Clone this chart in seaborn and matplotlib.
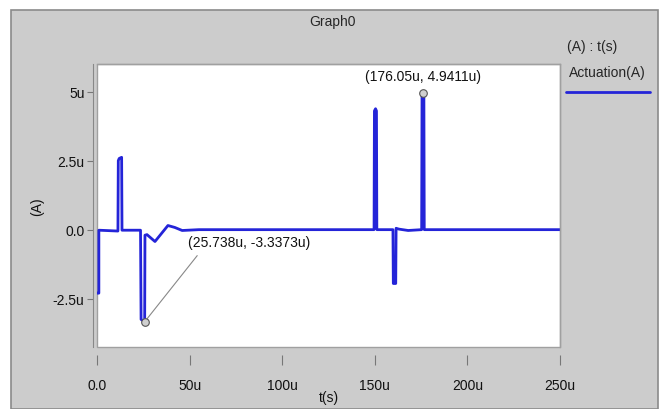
import numpy as np
import pandas as pd
import seaborn as sns
import matplotlib.pyplot as plt
from matplotlib.patches import Rectangle
from matplotlib.lines import Line2D
from matplotlib.ticker import FuncFormatter

# time in micro-seconds, current in micro-amps
t_us = [0, 1.0, 1.0, 11.3, 11.5, 12.0, 13.3, 13.5, 23.5, 23.8, 25.738, 25.9,
        27.0, 31.3, 38.3, 42.0, 46.0, 55.0, 149.6, 149.8, 150.4, 150.9, 151.1,
        159.8, 160.0, 161.3, 161.5, 163.0, 168.0, 175.3, 175.5, 176.05, 176.5,
        176.7, 250.0]
i_ua = [-2.3, -2.3, -0.02, -0.05, 2.5, 2.58, 2.62, -0.02, -0.02, -3.25, -3.3373, -0.2,
        -0.18, -0.43, 0.15, 0.08, -0.03, 0.0, 0.0, 4.3, 4.38, 4.3, 0.0,
        0.0, -1.95, -1.95, 0.05, 0.02, -0.03, 0.0, 4.9, 4.9411, 4.9,
        0.0, 0.0]

marks_t = [25.738, 176.05]
marks_i = [-3.3373, 4.9411]
mark_labels = ["(25.738u, -3.3373u)", "(176.05u, 4.9411u)"]

x_ticks = [0, 50, 100, 150, 200, 250]
y_ticks = [-2.5, 0, 2.5, 5]

sns.set_style("white")
plt.rcParams['font.family'] = ['Liberation Sans', 'DejaVu Sans']
FS = 10

fig = plt.figure(figsize=(6.65, 4.10), dpi=100)
fig.patch.set_facecolor('white')
W, H = 665, 410
fig.patches.append(Rectangle((11 / W, 0), (658 - 11) / W, 1 - 11 / H,
                             transform=fig.transFigure, facecolor='#cccccc',
                             edgecolor='#8a8a8a', linewidth=1.2, zorder=-10))

ax = fig.add_axes([97 / W, 1 - 348 / H, (560 - 97) / W, (348 - 65) / H])
ax.set_facecolor('white')

df = pd.DataFrame({"t": t_us, "i": i_ua})
sns.lineplot(data=df, x="t", y="i", sort=False, estimator=None,
             color='#2424d8', linewidth=2.0, ax=ax, legend=False)

ax.scatter(marks_t, marks_i, s=30, facecolor='#d0d0d0', edgecolor='#555555',
           linewidth=0.8, zorder=5)
ax.annotate(mark_labels[0], xy=(marks_t[0], marks_i[0]), xytext=(82, -0.45),
            fontsize=FS, ha='center', va='center', color='#111111',
            arrowprops=dict(arrowstyle='-', color='#888888', lw=0.8,
                            shrinkA=3, shrinkB=0, relpos=(0.12, 0)))
ax.text(176.05, 5.55, mark_labels[1], fontsize=FS, ha='center', va='center',
        color='#111111')

ax.set_xlim(0, 250)
ax.set_ylim(-4.25, 6.0)
ax.set_xticks(x_ticks)
ax.set_yticks(y_ticks)
ax.xaxis.set_major_formatter(FuncFormatter(lambda v, p: "0.0" if v == 0 else f"{v:g}u"))
ax.yaxis.set_major_formatter(FuncFormatter(lambda v, p: "0.0" if v == 0 else f"{v:g}u"))

for s in ['top', 'right']:
    ax.spines[s].set_color('#a0a0a0')
    ax.spines[s].set_linewidth(1.0)
ax.spines['left'].set_position(('outward', 3))
ax.spines['left'].set_color('#888888')
ax.spines['bottom'].set_position(('outward', 6))
ax.spines['bottom'].set_visible(False)
ax.patch.set_edgecolor('#a0a0a0')
ax.patch.set_linewidth(1.0)

ax.tick_params(axis='x', bottom=True, length=7, width=0.8, color='#777777',
               pad=9, labelsize=FS, labelcolor='#111111')
ax.tick_params(axis='y', left=True, length=4, width=0.8, color='#777777',
               pad=2, labelsize=FS, labelcolor='#111111')

ax.set_xlabel("t(s)", fontsize=FS, labelpad=-1, color='#111111')
ax.set_ylabel("(A)", fontsize=FS, labelpad=6, color='#111111')

fig.text(332 / W, 1 - 22 / H, "Graph0", fontsize=FS, ha='center', va='center')
fig.text(592 / W, 1 - 47 / H, "(A) : t(s)", fontsize=FS, ha='center', va='center')
fig.text(607 / W, 1 - 73 / H, "Actuation(A)", fontsize=FS, ha='center', va='center')
fig.lines.append(Line2D([566 / W, 650 / W], [1 - 93 / H, 1 - 93 / H],
                        transform=fig.transFigure, color='#2424d8', linewidth=2.0))

fig.savefig("out.png", dpi=100, facecolor=fig.get_facecolor())
